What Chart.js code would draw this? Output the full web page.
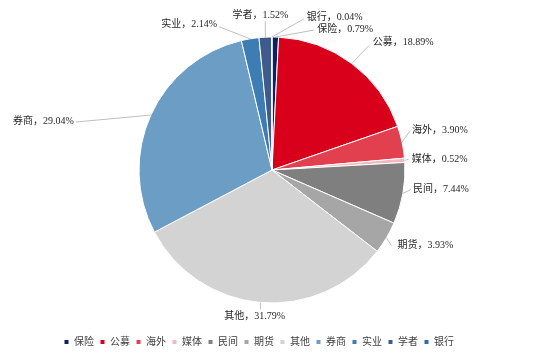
<!DOCTYPE html>
<html><head><meta charset="utf-8">
<script src="https://cdn.jsdelivr.net/npm/chart.js@4"></script>
<style>html,body{margin:0;padding:0;background:#fff}#wrap{width:550px;height:354px;position:relative}</style>
</head><body><div id="wrap"><canvas id="c"></canvas></div>
<script>
const categories = ['保险','公募','海外','媒体','民间','期货','其他','券商','实业','学者','银行'];
const shares = [0.79, 18.89, 3.90, 0.52, 7.44, 3.93, 31.79, 29.04, 2.14, 1.52, 0.04];
const colors = ['#0b2262','#d9001b','#e2404f','#f4b8c2','#7f7f7f','#a6a6a6','#d3d3d3','#6c9ec5','#3d7db3','#3f5a8c','#2e6ea8'];
// label layout: [lineEndDx, lineEndDy, textDx, textDy, align] relative to slice edge midpoint
const labelLayout = [
  [39,-7, 42,-8,'left'],
  [17,-18, 21,-21,'left'],
  [8,-11, 10,-12,'left'],
  [4,-1, 7,-1,'left'],
  [8,-4, 10,-4,'left'],
  [5,8, 11,8,'left'],
  [0,7, -6,14,'center'],
  [-75,7, -77,6,'right'],
  [-31,-12, -33,-14,'right'],
  [0,-16, -5,-22,'center'],
  [32,-18, 35,-20,'left']
];
const FONT = '"Liberation Serif","Noto Sans CJK SC",serif';

const labelPlugin = {
  id: 'sliceLabels',
  afterDatasetsDraw(chart) {
    const ctx = chart.ctx;
    const meta = chart.getDatasetMeta(0);
    ctx.save();
    ctx.font = '10px ' + FONT;
    ctx.textBaseline = 'middle';
    meta.data.forEach((arc, i) => {
      const p = arc.getProps(['x','y','startAngle','endAngle','outerRadius'], true);
      const mid = (p.startAngle + p.endAngle) / 2;
      const ex = p.x + Math.cos(mid) * p.outerRadius;
      const ey = p.y + Math.sin(mid) * p.outerRadius;
      const L = labelLayout[i];
      ctx.strokeStyle = '#bfbfbf';
      ctx.lineWidth = 1;
      ctx.beginPath();
      ctx.moveTo(ex, ey);
      ctx.lineTo(ex + L[0], ey + L[1]);
      ctx.stroke();
      ctx.fillStyle = '#262626';
      ctx.textAlign = L[4];
      ctx.fillText(categories[i] + '，' + shares[i].toFixed(2) + '%', ex + L[2], ey + L[3]);
    });
    ctx.restore();
  }
};
const legendShift = {
  id: 'legendShift',
  afterLayout(chart) {
    const lg = chart.legend;
    if (!lg) return;
    lg.left -= 13; lg.right -= 13;
    lg.top += 3; lg.bottom += 3;
  }
};

new Chart(document.getElementById('c'), {
  type: 'pie',
  data: {
    labels: categories,
    datasets: [{
      data: shares,
      backgroundColor: colors,
      borderColor: '#ffffff',
      borderWidth: 1,
      radius: 133
    }]
  },
  options: {
    responsive: true,
    maintainAspectRatio: false,
    animation: false,
    devicePixelRatio: 1,
    layout: { padding: { top: 12, left: 0, right: 6, bottom: 0 } },
    plugins: {
      tooltip: { enabled: false },
      legend: {
        position: 'bottom',
        labels: {
          usePointStyle: true,
          pointStyle: 'rect',
          boxWidth: 5,
          boxHeight: 5,
          padding: 6,
          color: '#404040',
          font: { size: 10, family: FONT }
        }
      }
    }
  },
  plugins: [labelPlugin, legendShift]
});
</script></body></html>
